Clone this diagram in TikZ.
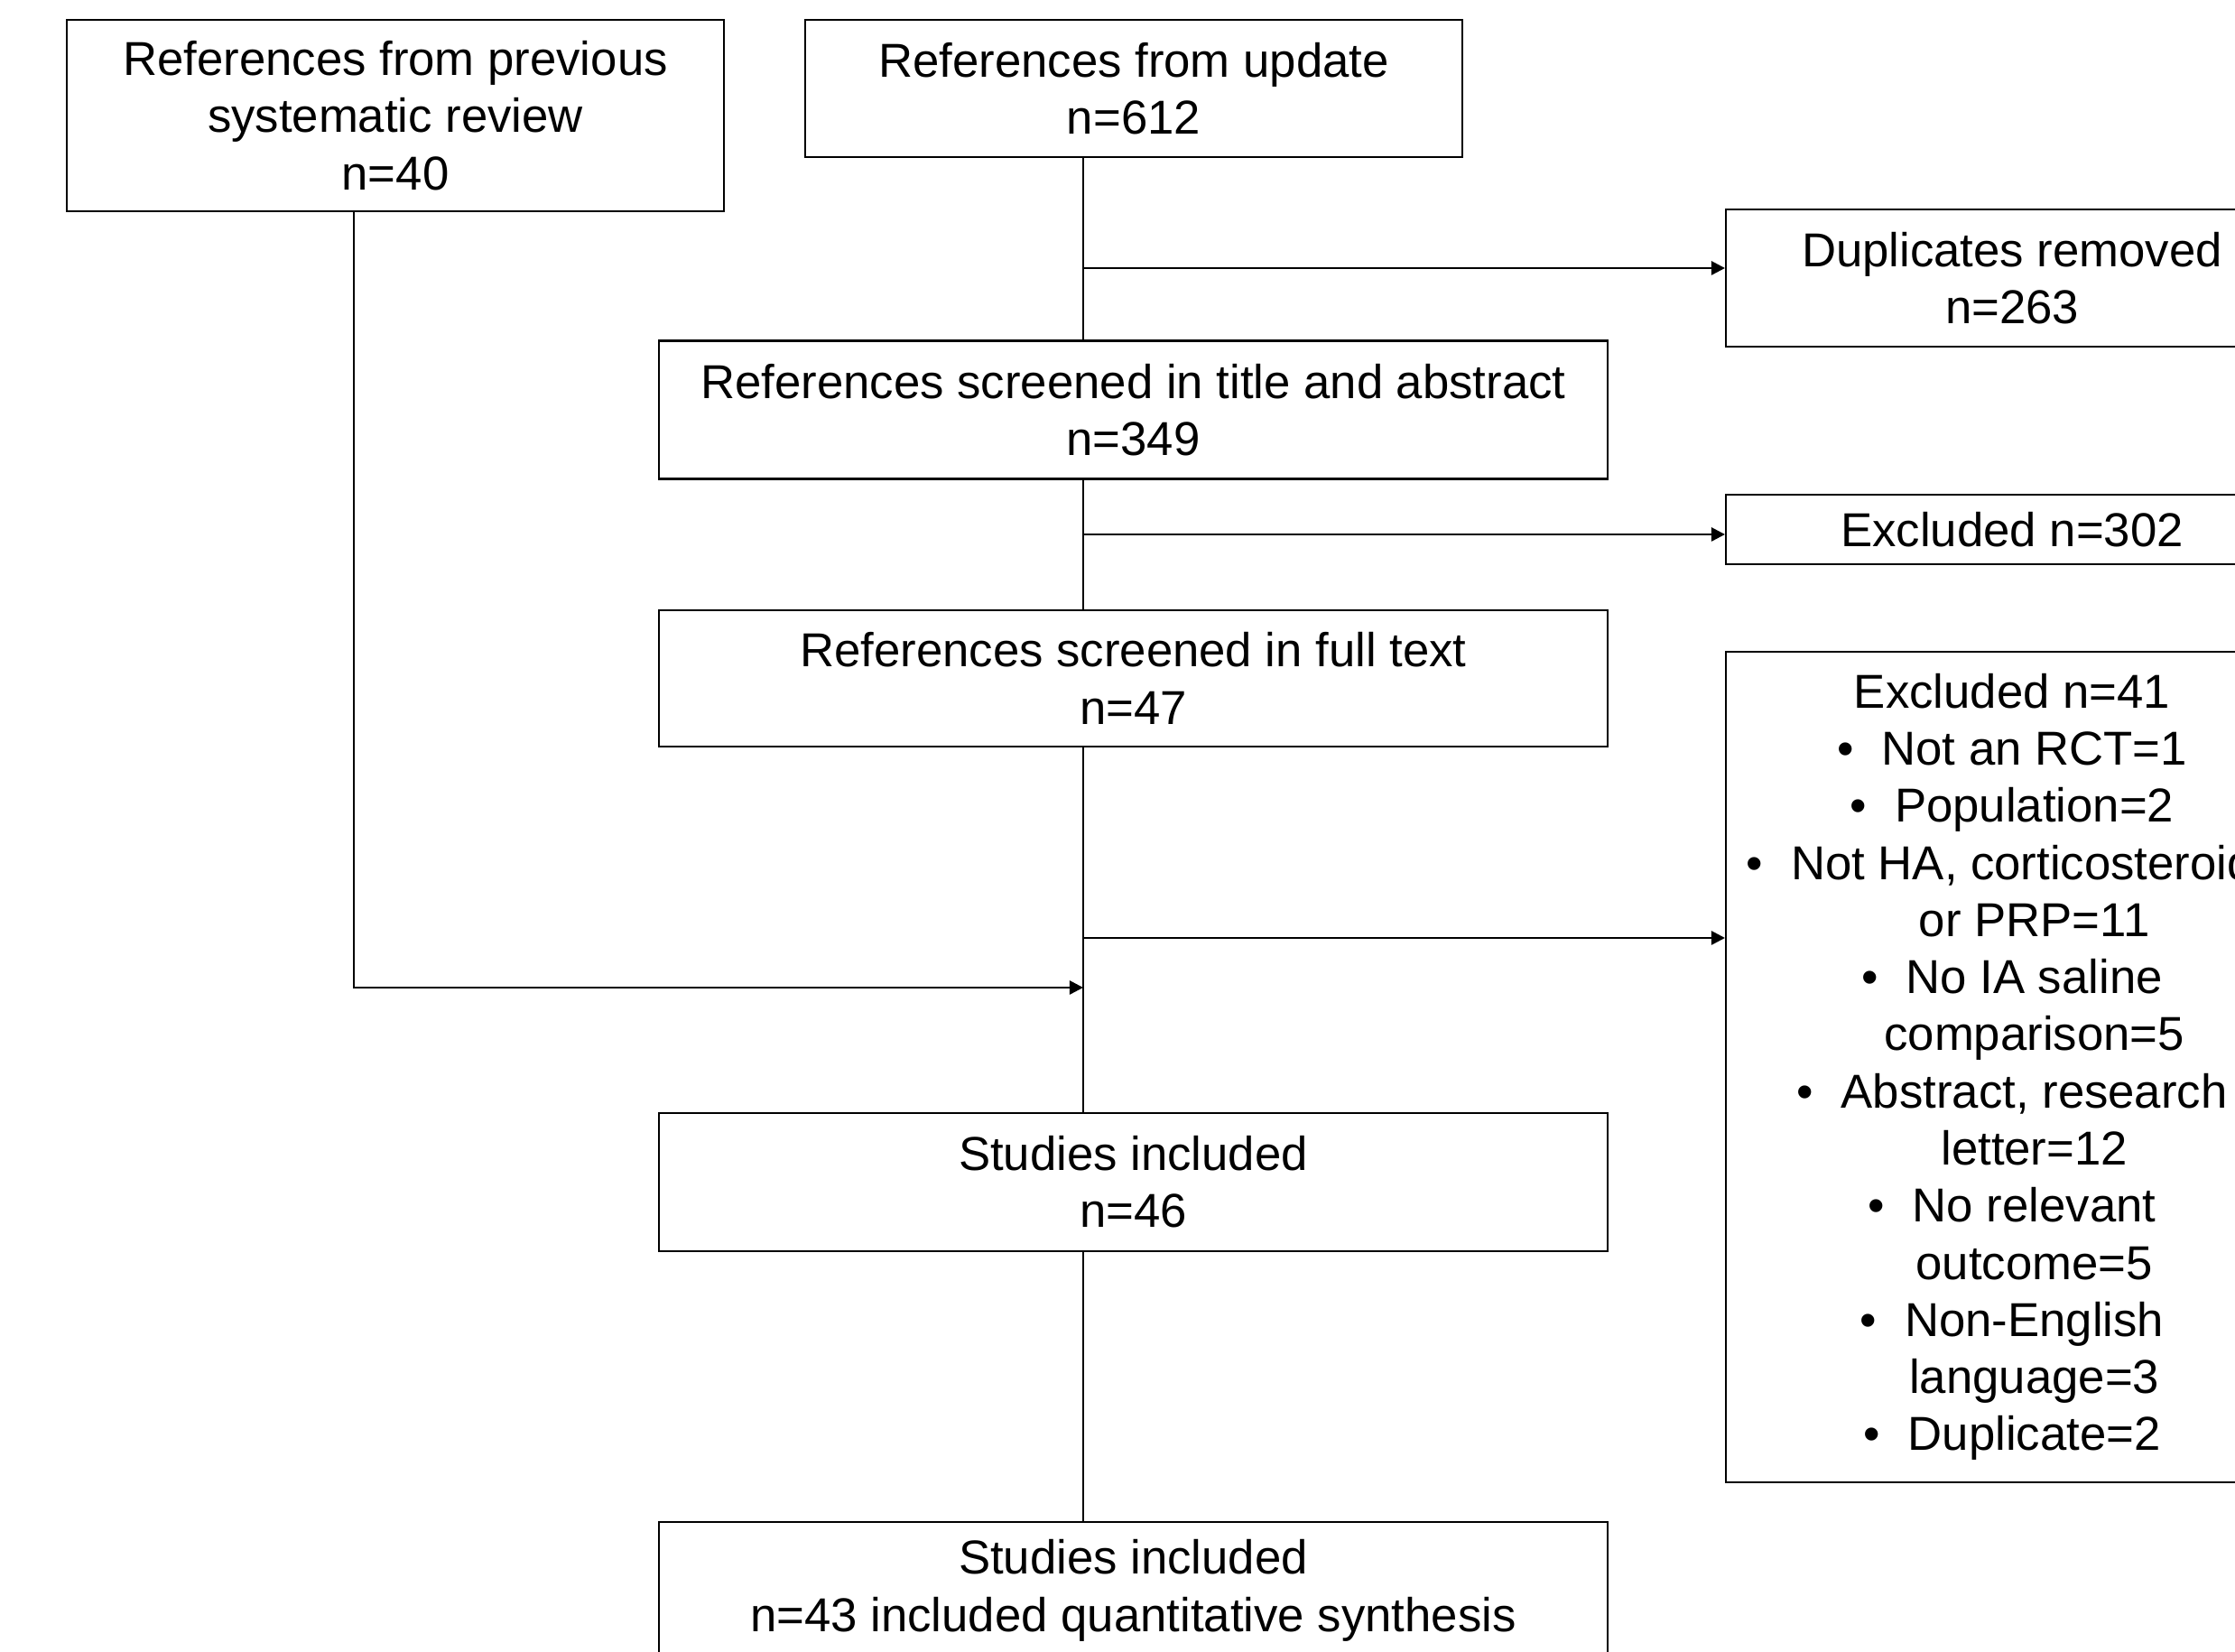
\documentclass[tikz,border=0pt]{standalone}
\usepackage{fontspec}
\setmainfont{Liberation Sans}
\usetikzlibrary{arrows.meta}

\newcommand{\punto}[1]{\makebox[14pt][l]{\textbullet}#1}
\newcommand{\sigue}[1]{\hspace*{14pt}#1}

\begin{document}
\begin{tikzpicture}[
    every node/.style={font=\fontsize{15pt}{18pt}\selectfont},
    caja/.style={rectangle, draw=black, line width=0.6pt, align=center, inner sep=0pt, minimum width=10.51cm, minimum height=1.53cm},
    cajalado/.style={caja, anchor=west, minimum width=6.34cm},
    linea/.style={line width=0.6pt},
    flecha/.style={-{Triangle[length=4.3pt, width=4.3pt]}, line width=0.75pt}
]

\useasboundingbox (0,0) rectangle (24.76,18.30);
\clip (0,0) rectangle (24.76,18.30);

\node (prev) [caja, minimum width=7.28cm, minimum height=2.12cm] at (4.38,17.02) {References from previous\\systematic review\\n=40};

\node (upd) [caja, minimum width=7.28cm, minimum height=1.52cm] at (12.56,17.32) {References from update\\n=612};

\node (screen1) [caja] at (12.555,13.76) {References screened in title and abstract\\n=349};

\node (screen2) [caja, minimum height=1.51cm] at (12.555,10.785) {References screened in full text\\n=47};

\node (incl1) [caja] at (12.555,5.205) {Studies included\\n=46};

\node (incl2) [caja, minimum height=1.52cm] at (12.555,0.68) {Studies included\\n=43 included quantitative synthesis};

\node (dup) [cajalado, minimum height=1.52cm] at (19.11,15.22) {Duplicates removed\\n=263};

\node (excl1) [cajalado, minimum height=0.77cm] at (19.11,12.435) {Excluded n=302};

\node (excl2) [cajalado, minimum height=9.20cm] at (19.11,6.48) {Excluded n=41\\
    \punto{Not an RCT=1}\\
    \punto{Population=2}\\
    \punto{Not HA, corticosteroids}\\
    \sigue{or PRP=11}\\
    \punto{No IA saline}\\
    \sigue{comparison=5}\\
    \punto{Abstract, research}\\
    \sigue{letter=12}\\
    \punto{No relevant}\\
    \sigue{outcome=5}\\
    \punto{Non-English}\\
    \sigue{language=3}\\
    \punto{Duplicate=2}};

\coordinate (eje) at (12,0);
\coordinate (r1) at (12,15.33);
\coordinate (r2) at (12,12.38);
\coordinate (r3) at (12,7.91);
\coordinate (izq) at (3.92,7.36);

\draw [linea] (upd.south -| eje) -- (screen1.north -| eje);
\draw [linea] (screen1.south -| eje) -- (screen2.north -| eje);
\draw [linea] (screen2.south -| eje) -- (incl1.north -| eje);
\draw [linea] (incl1.south -| eje) -- (incl2.north -| eje);

\draw [flecha] (r1) -- (r1 -| dup.west);
\draw [flecha] (r2) -- (r2 -| excl1.west);
\draw [flecha] (r3) -- (r3 -| excl2.west);
\draw [flecha] (prev.south -| izq) -- (izq) -- (izq -| eje);

\end{tikzpicture}
\end{document}
